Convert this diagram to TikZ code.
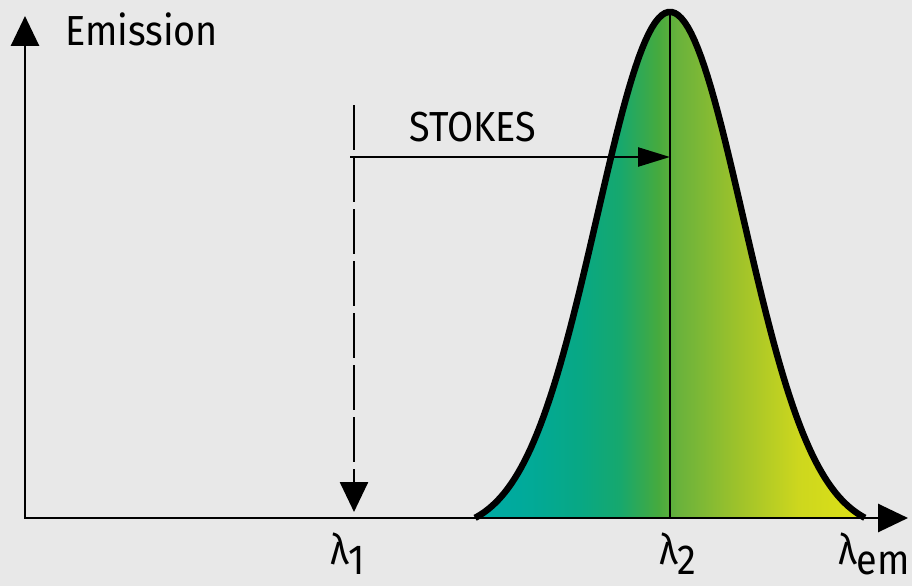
\documentclass[tikz,border=0pt]{standalone}
\usepackage{fontspec}
\setmainfont{Fira Sans}[FakeStretch=0.9]
\usetikzlibrary{arrows.meta}
\definecolor{bggray}{RGB}{232,232,232}
\definecolor{bandA}{RGB}{0,170,165}
\definecolor{bandB}{RGB}{0,170,156}
\definecolor{bandC}{RGB}{8,168,132}
\definecolor{bandD}{RGB}{22,168,110}
\definecolor{bandE}{RGB}{70,170,62}
\definecolor{bandF}{RGB}{105,178,60}
\definecolor{bandG}{RGB}{160,195,42}
\definecolor{bandH}{RGB}{205,215,30}
\definecolor{bandI}{RGB}{222,225,22}
\pgfdeclarehorizontalshading{bandshade}{100bp}{color(0bp)=(bandA); color(25bp)=(bandA);
	color(30.5bp)=(bandB); color(38.5bp)=(bandC); color(43.5bp)=(bandD);
	color(48.5bp)=(bandE); color(51bp)=(bandF); color(59bp)=(bandG);
	color(66.5bp)=(bandH); color(75bp)=(bandI); color(100bp)=(bandI)}
\newcommand{\lamsub}[1]{λ\raisebox{-10pt}{#1}}
\tikzset{
	axisline/.style={line width=2.8pt, line join=miter,
		{Triangle[length=30pt, width=28pt]}-{Triangle[length=30pt, width=28pt]}},
	excarrow/.style={line width=2.6pt, dash pattern=on 45pt off 7pt,
		-{Triangle[length=30pt, width=28pt]}},
	shiftarrow/.style={line width=2.4pt, -{Triangle[length=32pt, width=19pt]}},
	peakline/.style={line width=2.4pt},
	bellcurve/.style={line width=6.5pt, line join=round},
	axislabel/.style={font=\fontsize{42}{46}\selectfont, inner sep=0pt}
}

\begin{document}
\begin{tikzpicture}[x=1pt, y=-1pt]
	\useasboundingbox[fill=bggray] (0,0) rectangle (912,586);
	\coordinate (O) at (25,518);
	\coordinate (ytip) at (25,16);
	\coordinate (xtip) at (908,518);
	\coordinate (peak) at (670,12);
	\coordinate (exctop) at (354,105);
	\coordinate (excbot) at (354,512);
	\coordinate (shiftstart) at (350,157);
	% emission band
	\shade[shading=bandshade]
		plot[domain=-2.67:2.67, samples=120] ({670+73*\x}, {518-506*(exp(-\x*\x/2)-0.028)/0.972}) -- cycle;
	\draw[peakline] (peak) -- (peak |- O);
	\draw[bellcurve] plot[domain=-2.67:2.67, samples=120] ({670+73*\x}, {518-506*(exp(-\x*\x/2)-0.028)/0.972});
	\draw[axisline] (ytip) |- (xtip);
	\draw[excarrow] (exctop) -- (excbot);
	\draw[shiftarrow] (shiftstart) -- (shiftstart -| peak);
	\node[axislabel, anchor=base west] (emlabel) at (65,46) {Emission};
	\node[axislabel, anchor=base west] (stokes) at (409,141) {STOKES};
	\node[axislabel, anchor=base west] (lamone) at (330,564) {\lamsub{1}};
	\node[axislabel, anchor=base west] (lamtwo) at (659,564) {\lamsub{2}};
	\node[axislabel, anchor=base west] (lamem) at (838,564) {\lamsub{em}};
\end{tikzpicture}
\end{document}
